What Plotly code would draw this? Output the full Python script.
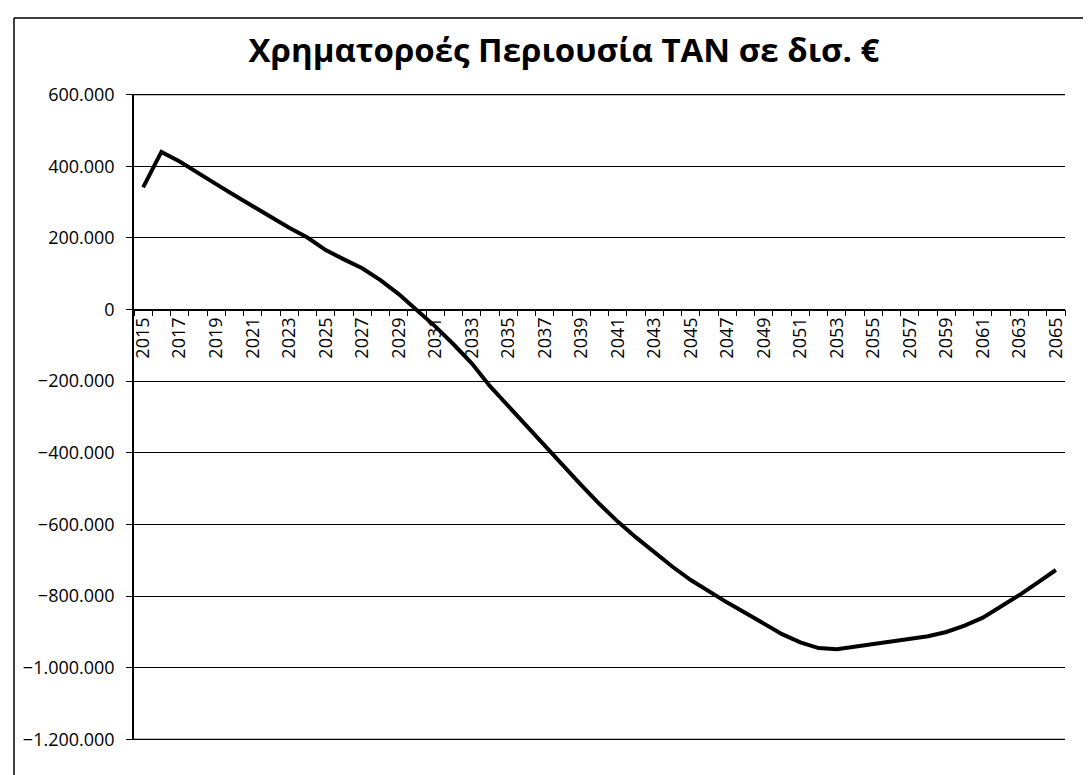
import plotly.graph_objects as go

years = list(range(2015, 2066))
values = [341000, 440000, 413000, 383000, 350000, 319000, 288000, 256000, 228000, 201000,
          166000, 140000, 115000, 82000, 43000, -2000, -47000, -97000, -150000, -214000,
          -270000, -326000, -381000, -436000, -490000, -543000, -592000, -636000, -678000, -718000,
          -755000, -787000, -818000, -847000, -878000, -906000, -929000, -945000, -948000, -941000,
          -933000, -926000, -920000, -912000, -900000, -882000, -860000, -830000, -797000, -762000,
          -727000]
tick_years = list(range(2015, 2066, 2))
y_ticks = list(range(-1200000, 600001, 200000))

title_text = "Χρηματοροές Περιουσία ΤΑΝ σε δισ. €"

W, H = 1091, 775
L, R, T, B = 126, 34, 86, 43

fig = go.Figure()
fig.add_trace(go.Scatter(
    x=years, y=values, mode="lines",
    line=dict(color="black", width=4),
    hoverinfo="skip", showlegend=False,
))

pw = W - L - R
ph = H - T - B
ymin, ymax = -1201500, 601500
zero_pos = (0 - ymin) / (ymax - ymin)

fig.update_layout(
    width=W, height=H,
    margin=dict(l=L, r=R, t=T, b=B),
    paper_bgcolor="white", plot_bgcolor="white",
    separators=",.",
    title=dict(text="<b>" + title_text + "</b>", x=556 / W, xref="container", xanchor="center",
               y=1 - 42 / H, yref="container", yanchor="middle",
               font=dict(family="Open Sans", size=33, color="black")),
    font=dict(family="Open Sans", color="black"),
    xaxis=dict(
        range=[2014.5, 2065.5], tickmode="array", tickvals=tick_years,
        ticktext=[str(y) for y in tick_years], tickangle=-90,
        tickfont=dict(size=18, family="Open Sans", color="black"),
        showgrid=False, zeroline=False, showline=True, linecolor="black", linewidth=1.5,
        anchor="free", position=zero_pos, ticks="", ticklen=0,
        minor=dict(tickmode="linear", tick0=2014.5, dtick=1, ticks="outside",
                   ticklen=6, tickcolor="black", tickwidth=1.2, showgrid=False),
    ),
    yaxis=dict(
        range=[ymin, ymax], tickmode="array", tickvals=y_ticks,
        tickformat=",d",
        tickfont=dict(size=18, family="Open Sans", color="black"),
        showgrid=True, gridcolor="black", gridwidth=1.2,
        zeroline=False, showline=True, linecolor="black", linewidth=1.5,
        ticks="outside", ticklen=6, tickcolor="black", tickwidth=1.2,
        ticklabelstandoff=8,
    ),
)

# edge gridlines (top and bottom of the value axis)
for yv in (y_ticks[0], y_ticks[-1]):
    fig.add_shape(type="line", xref="paper", yref="y", x0=0, x1=1, y0=yv, y1=yv,
                  line=dict(color="black", width=1.2), layer="below")

# outer chart border (left and top visible)
x_left = (6 - L) / pw
y_top = (H - B - 10) / ph
fig.add_shape(type="line", xref="paper", yref="paper", x0=x_left, x1=x_left,
              y0=(H - B - H - 5) / ph, y1=y_top, line=dict(color="black", width=1.5))
fig.add_shape(type="line", xref="paper", yref="paper", x0=x_left, x1=(W + 5 - L) / pw,
              y0=y_top, y1=y_top, line=dict(color="black", width=1.5))

fig.write_html("out.html")
